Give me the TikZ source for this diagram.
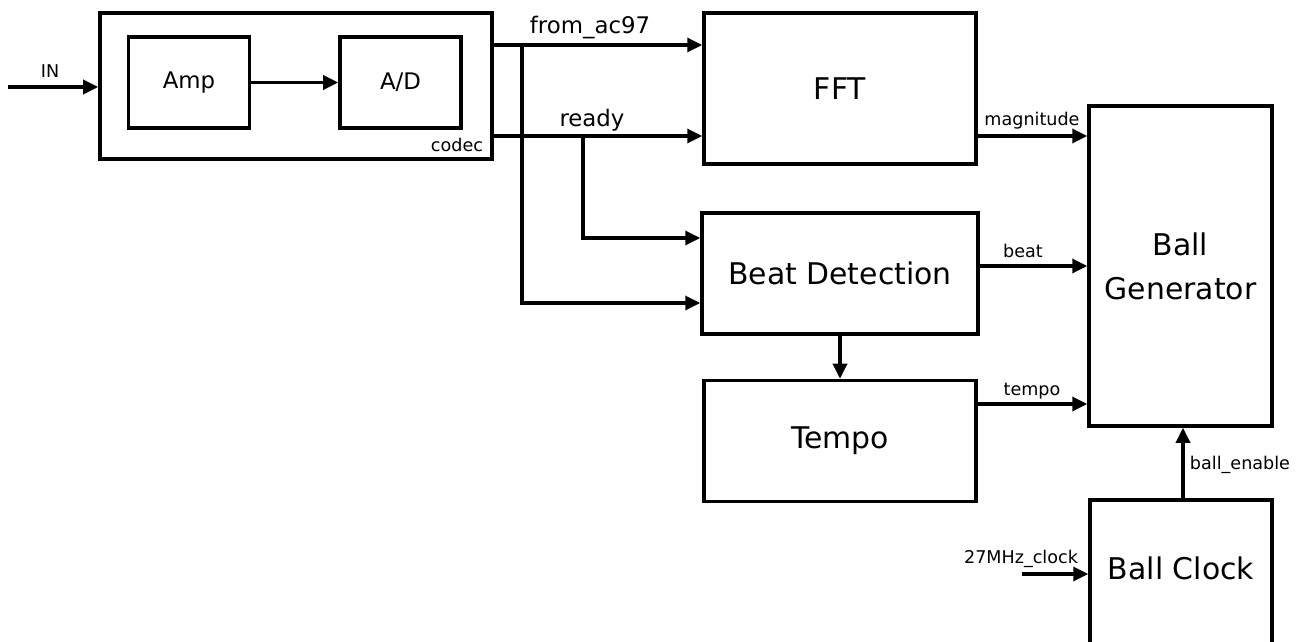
\documentclass[tikz,border=0pt]{standalone}
\usepackage{fontspec}
\setmainfont{DejaVu Sans}
\usetikzlibrary{arrows.meta}

\begin{document}
\begin{tikzpicture}[x=0.02cm, y=-0.02cm, line width=1.9pt, >={Triangle[length=3mm,width=2.8mm]},
	blk/.style={draw, line width=2pt, inner sep=0pt},
	sz/.style 2 args={minimum width=#1*0.02cm, minimum height=#2*0.02cm},
	big/.style={font=\fontsize{17}{25}\selectfont},
	mid/.style={font=\fontsize{13}{15}\selectfont},
	lbl/.style={font=\fontsize{10}{12}\selectfont}]
	\useasboundingbox (0,0) rectangle (1299,642);
	% blocks
	\node[blk, sz={392}{146}] (codec) at (296,86) {};
	\node[blk, sz={121}{91}, mid] (amp) at (189,82.5) {Amp};
	\node[blk, sz={121}{91}, mid] (ad) at (400.5,82.5) {A/D};
	\node[lbl] (codeclbl) at (457,145) {codec};
	\node[blk, sz={272}{151}, big] (fft) at (840,88.5) {FFT};
	\node[blk, sz={276}{121}, big] (beat) at (840,273.5) {Beat Detection};
	\node[blk, sz={272}{121}, big] (tempo) at (840,441) {Tempo};
	\node[blk, sz={183}{320}, big, align=center] (ballgen) at (1180.5,266) {Ball\\Generator};
	\node[blk, sz={182}{200}, anchor=north] (clock) at (1181,498) {};
	\node[big] (clocklbl) at (1181,568) {Ball Clock};
	% free ends and taps
	\coordinate (in) at (8,87);
	\coordinate (clk) at (1022,574);
	\coordinate (tapA) at (522,45);
	\coordinate (tapR) at (583,136);
	% signals
	\draw[->] (in) -- (in -| codec.west);
	\draw[->] (amp) -- (ad);
	\draw[->] (tapA -| codec.east) -- (tapA -| fft.west);
	\draw[->] (tapR -| codec.east) -- (tapR -| fft.west);
	\draw[->] (tapA) |- (beat.west |- 0,303);
	\draw[->] (tapR) |- (beat.west |- 0,238);
	\draw[->] (fft.east |- 0,136) -- (ballgen.west |- 0,136);
	\draw[->] (beat.east |- 0,266) -- (ballgen.west |- 0,266);
	\draw[->] (tempo.east |- 0,404) -- (ballgen.west |- 0,404);
	\draw[->] (beat) -- (tempo);
	\draw[->] (clock.north -| 1183,0) -- (ballgen.south -| 1183,0);
	\draw[->] (clk) -- (clk -| clock.west);
	% labels
	\node[lbl] (inlbl) at (50,71) {IN};
	\node[mid] (falbl) at (590,28) {from\_ac97};
	\node[mid] (rdlbl) at (592,120) {ready};
	\node[lbl] (maglbl) at (1032,121) {magnitude};
	\node[lbl] (btlbl) at (1023,251) {beat};
	\node[lbl] (tplbl) at (1032,391) {tempo};
	\node[lbl] (enlbl) at (1240,465) {ball\_enable};
	\node[lbl] (clklbl) at (1021,559) {27MHz\_clock};
\end{tikzpicture}
\end{document}
